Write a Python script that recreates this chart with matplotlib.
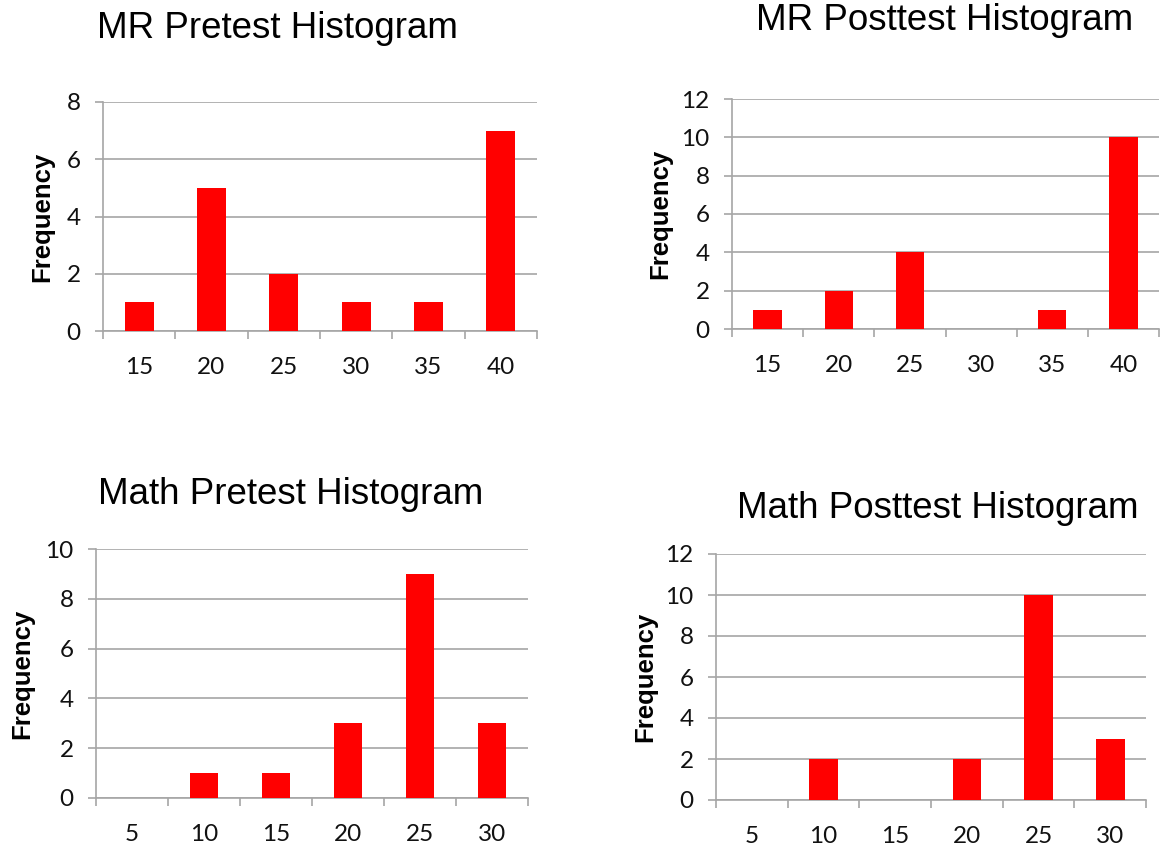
import numpy as np
import matplotlib
matplotlib.use("Agg")
import matplotlib.pyplot as plt
from matplotlib.ticker import FixedLocator

# ── data ──
mr_bins = [15, 20, 25, 30, 35, 40]
math_bins = [5, 10, 15, 20, 25, 30]
mr_pre = [1, 5, 2, 1, 1, 7]
mr_post = [1, 2, 4, 0, 1, 10]
math_pre = [0, 1, 1, 3, 9, 3]
math_post = [0, 2, 0, 2, 10, 3]

W, H = 1161, 848
GRID = "#A6A6A6"
RED = "#FF0000"
TICK_FONT = "Lato"
TITLE_FONT = "Liberation Sans"

fig = plt.figure(figsize=(W / 100, H / 100), dpi=100)


def panel(box, cats, vals, ymax, ystep, title, title_xy, ylab_x):
    l, r, t, b = box
    ax = fig.add_axes([l / W, 1 - b / H, (r - l) / W, (b - t) / H])
    x = np.arange(len(cats))
    ax.bar(x, vals, width=0.4, color=RED, zorder=3)
    ax.set_xlim(-0.5, len(cats) - 0.5)
    ax.set_ylim(0, ymax)
    ax.set_yticks(np.arange(0, ymax + 1, ystep))
    ax.set_xticks(x)
    ax.set_xticklabels([str(c) for c in cats])
    ax.xaxis.set_minor_locator(FixedLocator(np.arange(-0.5, len(cats), 1.0)))
    ax.grid(axis="y", color=GRID, lw=1.2, zorder=0)
    for s in ["top", "right"]:
        ax.spines[s].set_visible(False)
    for s in ["left", "bottom"]:
        ax.spines[s].set_color(GRID)
        ax.spines[s].set_linewidth(1.2)
    ax.tick_params(axis="x", which="major", length=0, pad=18.5)
    ax.tick_params(axis="x", which="minor", length=6, width=1.2, color=GRID, direction="out")
    ax.tick_params(axis="y", length=6, width=1.2, color=GRID, pad=10)
    for lab in ax.get_xticklabels() + ax.get_yticklabels():
        lab.set_fontfamily(TICK_FONT)
        lab.set_fontsize(17.5)
        lab.set_color("#111111")
    fig.text(title_xy[0] / W, 1 - title_xy[1] / H, title, ha="center", va="center",
             fontsize=26.5, family=TITLE_FONT)
    fig.text(ylab_x / W, 1 - (t + b) / 2 / H, "Frequency", rotation=90,
             ha="center", va="center", fontsize=18.5, fontweight="bold", family=TITLE_FONT)
    return ax


panel((103, 537, 102, 331), mr_bins, mr_pre, 8, 2, "MR Pretest Histogram", (277, 28), 42)
panel((732, 1159, 99, 329), mr_bins, mr_post, 12, 2, "MR Posttest Histogram", (945, 20), 660)
panel((96, 528, 549, 798), math_bins, math_pre, 10, 2, "Math Pretest Histogram", (291, 495), 22)
panel((716, 1146, 554, 800), math_bins, math_post, 12, 2, "Math Posttest Histogram", (938, 508), 645)

plt.savefig("out.png", dpi=100)
plt.close()
